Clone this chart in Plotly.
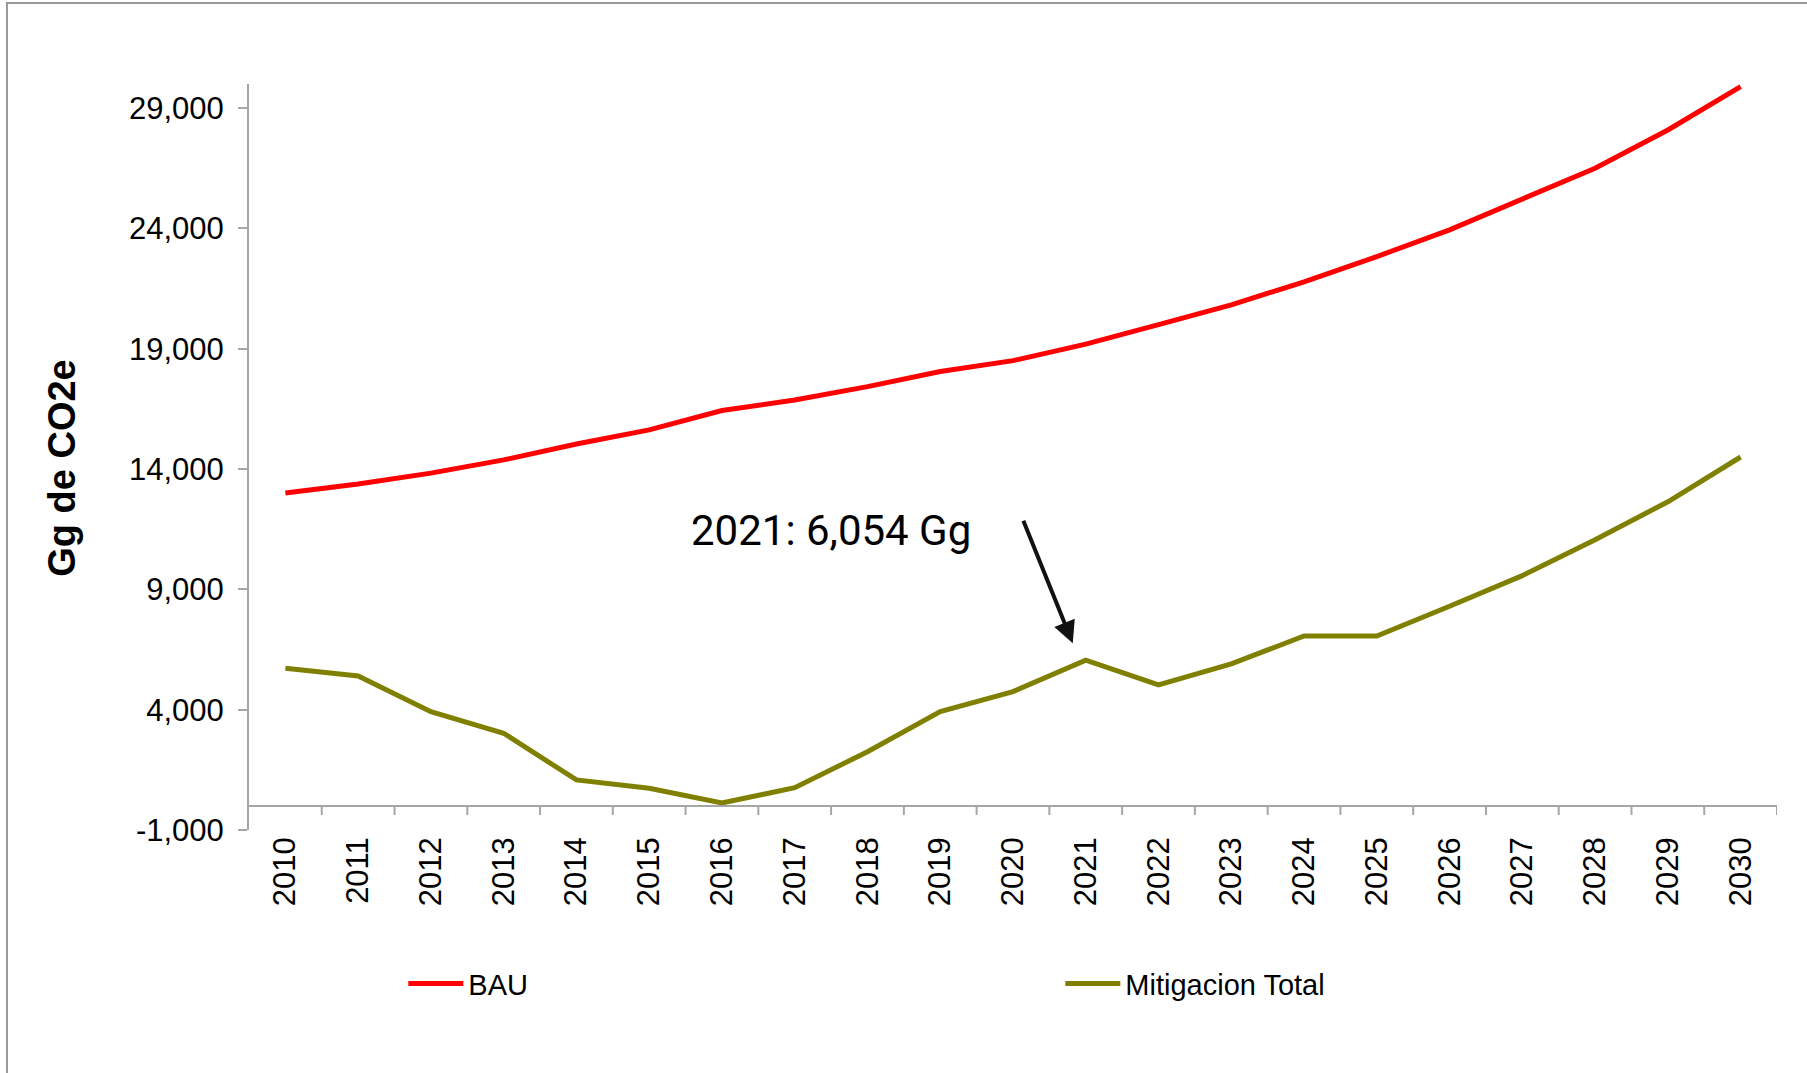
import plotly.graph_objects as go

# ## data
years = ["2010", "2011", "2012", "2013", "2014", "2015", "2016", "2017", "2018", "2019", "2020",
         "2021", "2022", "2023", "2024", "2025", "2026", "2027", "2028", "2029", "2030"]
bau = [13000, 13380, 13830, 14380, 15040, 15625, 16430, 16870, 17425, 18050, 18505,
       19190, 20000, 20820, 21780, 22830, 23940, 25210, 26500, 28090, 29890]
mitigacion = [5720, 5400, 3917, 3020, 1080, 733, 120, 760, 2250, 3917, 4750,
              6054, 5027, 5900, 7063, 7063, 8300, 9570, 11060, 12640, 14500]
y_ticks = [-1000, 4000, 9000, 14000, 19000, 24000, 29000]
note_year = "2021"
note_text = "2021: 6,054 Gg"

axis_grey = "#a6a6a6"

fig = go.Figure()
fig.add_trace(go.Scatter(x=years, y=bau, mode="lines", name="BAU",
                         line=dict(color="#ff0000", width=5)))
fig.add_trace(go.Scatter(x=years, y=mitigacion, mode="lines", name="Mitigacion Total",
                         line=dict(color="#808000", width=5)))

# x axis crosses at 0 (excel style), so draw line + boundary ticks by hand
fig.add_shape(type="line", xref="x", yref="y", x0=-0.5, x1=len(years) - 0.5, y0=0, y1=0,
              line=dict(color=axis_grey, width=2))
for k in range(1, len(years) + 1):
    fig.add_shape(type="line", xref="x", yref="y", ysizemode="pixel", yanchor=0,
                  x0=k - 0.5, x1=k - 0.5, y0=0, y1=-9,
                  line=dict(color=axis_grey, width=2))

# outer frame of the chart
fig.add_shape(type="rect", xref="paper", yref="paper", x0=-0.1584, x1=1.5, y0=-1, y1=1.1086,
              line=dict(color="#999999", width=2), layer="below")

# y title
fig.add_annotation(xref="paper", yref="paper", x=-0.122, y=0.485, xanchor="center", yanchor="middle",
                   text="<b>Gg de CO2e</b>", textangle=-90, showarrow=False,
                   font=dict(family="Arial", size=38, color="black"))

# note + arrow (category index, numeric-looking names confuse the axis)
note_i = years.index(note_year)
fig.add_annotation(xref="paper", yref="paper", x=0.288, y=0.401, xanchor="left", yanchor="middle",
                   text=note_text, showarrow=False,
                   font=dict(family="Roboto", size=42, color="black"))
fig.add_annotation(x=note_i, y=mitigacion[note_i], xshift=-13, yshift=17, text="",
                   showarrow=True, arrowhead=2, arrowsize=1.1, arrowwidth=4, arrowcolor="#111111",
                   ax=-50, ay=-124, standoff=0)

fig.update_xaxes(type="category", range=[-0.5, len(years) - 0.5], showline=False, showgrid=False,
                 zeroline=False, ticks="", tickangle=-90,
                 tickfont=dict(family="Arial", size=31, color="black"))
fig.update_yaxes(range=[-1000, 30000], tickvals=y_ticks, ticktext=[f"{v:,}" for v in y_ticks],
                 showline=True, linecolor=axis_grey, linewidth=2, ticks="outside", ticklen=9,
                 tickwidth=2, tickcolor=axis_grey, showgrid=False, zeroline=False,
                 ticklabelstandoff=8,
                 tickfont=dict(family="Arial", size=31, color="black"))

fig.update_layout(
    width=1807, height=1073,
    margin=dict(l=249, r=30, t=84, b=243),
    plot_bgcolor="white", paper_bgcolor="white",
    showlegend=True,
    legend=dict(orientation="h", x=0.101, y=-0.206, xanchor="left", yanchor="middle",
                entrywidth=587, itemwidth=55,
                font=dict(family="Arial", size=29, color="black")),
)

fig.write_html("out.html", config={"displayModeBar": False},
               post_script="document.body.style.margin='0px';")
